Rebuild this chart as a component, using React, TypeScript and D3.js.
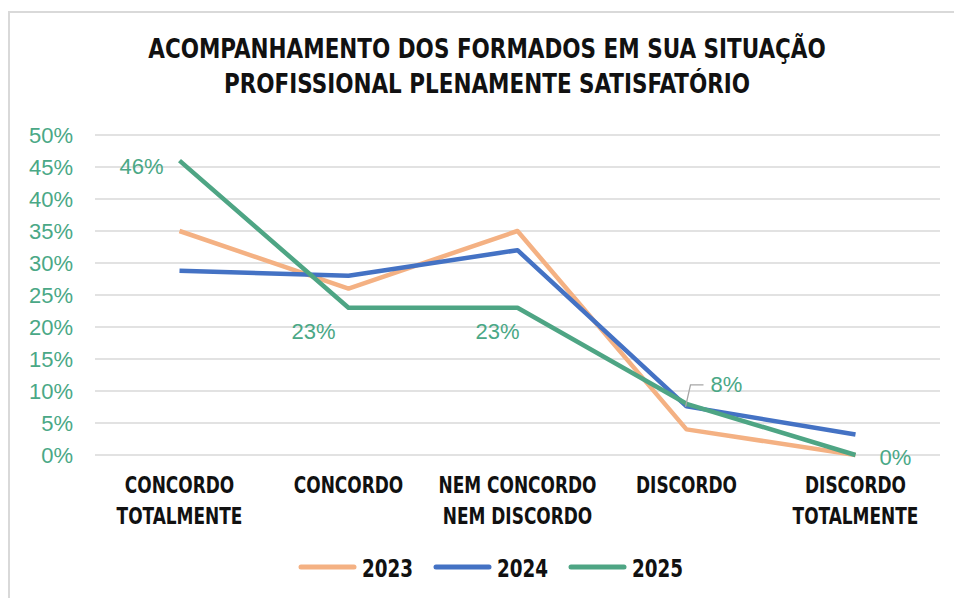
import React from "react";
import * as d3 from "d3";

const categories = [
  ["CONCORDO", "TOTALMENTE"],
  ["CONCORDO"],
  ["NEM CONCORDO", "NEM DISCORDO"],
  ["DISCORDO"],
  ["DISCORDO", "TOTALMENTE"],
];
const years = ["2023", "2024", "2025"];
const values2023 = [35, 26, 35, 4, 0];
const values2024 = [28.8, 28, 32, 7.6, 3.2];
const values2025 = [46, 23, 23, 8, 0];
const yTicks = [0, 5, 10, 15, 20, 25, 30, 35, 40, 45, 50];
const colors = ["#f4b183", "#4472c4", "#4ea584"];

const W = 954;
const H = 598;
const M = { left: 95, right: 14, top: 135, bottom: 143 };

const COND = "'DejaVu Sans Condensed', 'Liberation Sans Narrow', sans-serif";
const SANS = "'Liberation Sans', Arial, sans-serif";

export default function App() {
  const x = d3
    .scalePoint<number>()
    .domain(d3.range(categories.length))
    .range([M.left, W - M.right])
    .padding(0.5);
  const y = d3.scaleLinear().domain([0, 50]).range([H - M.bottom, M.top]);
  const series = [values2023, values2024, values2025];
  const line = d3
    .line<number>()
    .x((_, i) => x(i) as number)
    .y((d) => y(d));

  const labelColor = "#4aa886";

  const labelOffsets: [number, number][] = [
    [-38, 13],
    [-35, 31],
    [-20, 31],
    [40, -12],
    [40, 10],
  ];

  const x3 = x(3) as number;
  const y3 = y(values2025[3]);

  return (
    <svg
      width={W}
      height={H}
      style={{ position: "absolute", left: 0, top: 0, background: "#fff" }}
    >
      <rect x={9} y={12} width={W + 20} height={H + 20} fill="#fff" stroke="#d9d9d9" strokeWidth={2} />
      <g transform="translate(487,0) scale(0.92,1)">
        <text x={0} y={58} textAnchor="middle" fontFamily={COND} fontWeight="bold" fontSize={26} fill="#111">
          ACOMPANHAMENTO DOS FORMADOS EM SUA SITUAÇÃO
        </text>
        <text x={0} y={93} textAnchor="middle" fontFamily={COND} fontWeight="bold" fontSize={26} fill="#111">
          PROFISSIONAL PLENAMENTE SATISFATÓRIO
        </text>
      </g>

      {yTicks.map((t) => (
        <g key={t}>
          <line x1={M.left} x2={W - M.right} y1={y(t)} y2={y(t)} stroke="#d9d9d9" strokeWidth={1.3} />
          <text x={73} y={y(t) + 8} textAnchor="end" fontFamily={SANS} fontSize={22} fill={labelColor}>
            {t}%
          </text>
        </g>
      ))}

      {categories.map((lines, i) => (
        <g key={i} transform={`translate(${x(i)},0) scale(0.82,1)`}>
          <text x={0} y={493} textAnchor="middle" fontFamily={COND} fontWeight="bold" fontSize={23} fill="#111">
            {lines.map((l, j) => (
              <tspan key={j} x={0} dy={j === 0 ? 0 : 31}>
                {l}
              </tspan>
            ))}
          </text>
        </g>
      ))}

      {series.map((s, k) => (
        <path
          key={k}
          d={line(s) || ""}
          fill="none"
          stroke={colors[k]}
          strokeWidth={4.5}
          strokeLinejoin="round"
        />
      ))}

      <polyline
        points={`${x3 - 1},${y3 + 3} ${x3 + 4},${y3 - 19} ${x3 + 17},${y3 - 19}`}
        fill="none"
        stroke="#a6a6a6"
        strokeWidth={1.3}
      />

      {values2025.map((v, i) => (
        <text
          key={i}
          x={(x(i) as number) + labelOffsets[i][0]}
          y={y(v) + labelOffsets[i][1]}
          textAnchor="middle"
          fontFamily={SANS}
          fontSize={22}
          fill={labelColor}
        >
          {v}%
        </text>
      ))}

      {years.map((yr, k) => {
        const lx = 301 + k * 135;
        return (
          <g key={yr}>
            <line x1={lx} x2={lx + 53} y1={567} y2={567} stroke={colors[k]} strokeWidth={5} strokeLinecap="round" />
            <g transform={`translate(${lx + 61},0) scale(0.85,1)`}>
              <text x={0} y={577} fontFamily={COND} fontWeight="bold" fontSize={24} fill="#111">
                {yr}
              </text>
            </g>
          </g>
        );
      })}
    </svg>
  );
}
